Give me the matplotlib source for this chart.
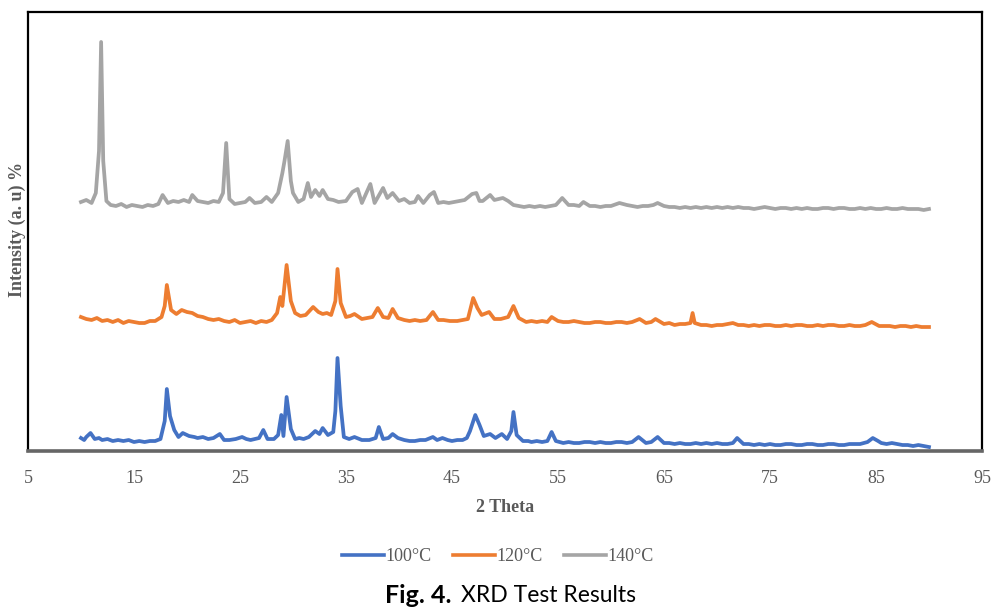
import matplotlib
matplotlib.use("Agg")
import matplotlib.pyplot as plt

# ---------------- data (2 Theta, intensity in a.u.) ----------------
two_theta_100 = [10.0, 10.3, 10.5, 10.9, 11.3, 11.7, 12.0, 12.5, 13.0, 13.5, 14.0, 14.5, 15.0, 15.5, 16.0, 16.5,
                 17.0, 17.5, 17.9, 18.1, 18.4, 18.8, 19.2, 19.6, 20.2, 20.7, 21.0, 21.5, 22.0, 22.5,
                 23.1, 23.5, 24.0, 24.6, 25.2, 25.6, 26.0, 26.4, 26.8, 27.2, 27.6, 28.2, 28.6, 28.9,
                 29.1, 29.4, 29.8, 30.2, 30.6, 31.0, 31.5, 32.1, 32.5, 32.8, 33.3, 33.8, 34.0, 34.2,
                 34.5, 34.8, 35.3, 35.8, 36.5, 37.2, 37.8, 38.1, 38.5, 39.0, 39.4, 39.9, 40.5, 41.0,
                 41.5, 42.0, 42.5, 43.2, 43.6, 44.1, 44.6, 45.0, 45.5, 46.0, 46.4, 46.7, 47.2, 47.6,
                 48.0, 48.6, 49.1, 49.7, 50.2, 50.6, 50.8, 51.1, 51.7, 52.2, 52.5, 53.0, 53.5, 54.0,
                 54.4, 54.8, 55.5, 56.0, 56.5, 57.0, 57.5, 58.0, 58.5, 59.0, 59.5, 60.0, 60.5, 61.0,
                 61.5, 62.0, 62.6, 63.3, 63.8, 64.4, 65.0, 65.5, 66.0, 66.5, 67.0, 67.5, 68.0, 68.5,
                 69.0, 69.5, 70.0, 70.5, 71.0, 71.5, 71.9, 72.5, 73.0, 73.5, 74.0, 74.5, 75.0, 75.5,
                 76.0, 76.5, 77.0, 77.5, 78.0, 78.5, 79.0, 79.5, 80.0, 80.5, 81.0, 81.5, 82.0, 82.5,
                 83.0, 83.5, 84.2, 84.7, 85.2, 85.5, 86.0, 86.5, 87.0, 87.5, 88.0, 88.5, 89.0, 89.5,
                 90.0]
intensity_100 = [13, 11, 14, 18, 12, 13, 11, 12, 10, 11, 10, 11, 9, 10, 9, 10,
                 10, 12, 30, 62, 35, 21, 14, 18, 15, 14, 13, 14, 12, 13,
                 17, 11, 11, 12, 14, 12, 11, 12, 13, 21, 12, 12, 16, 36,
                 15, 54, 22, 12, 13, 12, 14, 20, 17, 23, 16, 19, 40, 93,
                 45, 14, 12, 14, 11, 11, 13, 24, 12, 13, 17, 13, 11, 10,
                 10, 11, 11, 14, 11, 13, 11, 10, 11, 11, 13, 20, 36, 26,
                 15, 17, 13, 17, 12, 20, 39, 16, 10, 10, 9, 10, 9, 10,
                 19, 10, 8, 9, 8, 8, 9, 9, 8, 9, 8, 8, 9, 9,
                 8, 9, 14, 8, 9, 14, 8, 8, 7, 8, 7, 7, 8, 7,
                 8, 7, 8, 7, 7, 8, 13, 7, 7, 6, 7, 6, 7, 6,
                 6, 7, 7, 6, 6, 7, 7, 6, 6, 7, 7, 6, 6, 7,
                 7, 7, 9, 13, 10, 8, 7, 8, 7, 6, 6, 5, 6, 5,
                 4]

two_theta_120 = [10.0, 10.5, 11.0, 11.5, 12.0, 12.5, 13.0, 13.5, 14.0, 14.5, 15.0, 15.5, 16.0, 16.5,
                 17.0, 17.6, 17.9, 18.1, 18.5, 19.0, 19.5, 20.0, 20.5, 21.0, 21.5, 22.0, 22.5, 23.0,
                 23.5, 24.0, 24.5, 25.0, 25.5, 26.0, 26.5, 27.0, 27.5, 28.0, 28.5, 28.8, 29.0, 29.4,
                 29.8, 30.2, 30.7, 31.2, 31.9, 32.4, 32.8, 33.2, 33.6, 34.0, 34.2, 34.5, 35.0, 35.4,
                 35.8, 36.5, 37.0, 37.5, 38.0, 38.5, 39.0, 39.4, 39.9, 40.5, 41.0, 41.5, 42.0, 42.6,
                 43.2, 43.7, 44.2, 44.8, 45.5, 46.0, 46.5, 47.0, 47.4, 47.8, 48.5, 49.0, 49.6, 50.3,
                 50.8, 51.3, 52.0, 52.5, 53.0, 53.5, 54.0, 54.4, 55.0, 55.5, 56.0, 56.5, 57.0, 57.5,
                 58.0, 58.5, 59.0, 59.5, 60.0, 60.5, 61.0, 61.5, 62.0, 62.7, 63.3, 63.8, 64.2, 65.0,
                 65.5, 66.0, 66.5, 67.0, 67.5, 67.7, 67.9, 68.5, 69.0, 69.5, 70.0, 70.5, 71.0, 71.5,
                 72.0, 72.5, 73.0, 73.5, 74.0, 74.5, 75.0, 75.5, 76.0, 76.5, 77.0, 77.5, 78.0, 78.5,
                 79.0, 79.5, 80.0, 80.5, 81.0, 81.5, 82.0, 82.5, 83.0, 83.5, 84.0, 84.6, 85.3, 85.8,
                 86.3, 86.8, 87.3, 87.8, 88.3, 88.8, 89.3, 90.0]
intensity_120 = [134, 132, 131, 133, 130, 131, 129, 131, 128, 130, 129, 128, 128, 130,
                 130, 134, 145, 166, 141, 137, 141, 139, 138, 135, 134, 132, 131, 132,
                 130, 129, 131, 128, 129, 130, 128, 130, 129, 131, 138, 154, 145, 186,
                 150, 138, 135, 136, 144, 139, 137, 138, 136, 150, 182, 148, 134, 135,
                 137, 132, 133, 134, 143, 134, 133, 142, 133, 131, 130, 131, 130, 131,
                 139, 131, 131, 130, 130, 131, 132, 153, 143, 136, 139, 132, 132, 134,
                 145, 133, 129, 130, 129, 130, 129, 134, 130, 129, 129, 130, 129, 128,
                 128, 129, 129, 128, 128, 129, 129, 128, 129, 132, 128, 129, 132, 127,
                 128, 126, 127, 127, 128, 138, 128, 126, 126, 125, 126, 126, 127, 128,
                 126, 126, 125, 126, 125, 126, 126, 125, 125, 126, 125, 126, 126, 125,
                 125, 126, 125, 126, 126, 125, 125, 126, 125, 125, 126, 129, 125, 125,
                 125, 124, 125, 125, 124, 125, 124, 124]

two_theta_140 = [10.0, 10.5, 11.0, 11.4, 11.7, 11.9, 12.1, 12.4, 12.8, 13.3, 13.8, 14.3, 14.8, 15.3,
                 15.8, 16.3, 16.8, 17.3, 17.7, 18.2, 18.7, 19.2, 19.7, 20.2, 20.5, 21.0, 21.5, 22.0,
                 22.5, 23.0, 23.4, 23.7, 24.0, 24.5, 25.0, 25.5, 25.9, 26.4, 27.0, 27.5, 28.0, 28.6,
                 29.0, 29.2, 29.5, 29.8, 30.0, 30.5, 31.0, 31.4, 31.7, 32.1, 32.5, 32.8, 33.3, 33.8,
                 34.3, 35.0, 35.6, 36.1, 36.5, 37.3, 37.7, 38.5, 38.9, 39.4, 40.0, 40.5, 41.0, 41.5,
                 41.8, 42.3, 42.9, 43.3, 43.7, 44.2, 44.7, 45.2, 45.7, 46.2, 46.9, 47.3, 47.6, 47.9,
                 48.6, 49.0, 49.8, 50.3, 50.8, 51.3, 51.8, 52.3, 52.8, 53.3, 53.8, 54.3, 54.8, 55.4,
                 56.0, 56.5, 57.0, 57.4, 58.0, 58.5, 59.0, 59.5, 60.0, 60.8, 61.5, 62.0, 62.5, 63.0,
                 63.5, 64.0, 64.4, 65.0, 65.5, 66.0, 66.5, 67.0, 67.5, 68.0, 68.5, 69.0, 69.5, 70.0,
                 70.5, 71.0, 71.5, 72.0, 72.5, 73.0, 73.5, 74.0, 74.5, 75.0, 75.5, 76.0, 76.5, 77.0,
                 77.5, 78.0, 78.5, 79.0, 79.5, 80.0, 80.5, 81.0, 81.5, 82.0, 82.5, 83.0, 83.5, 84.0,
                 84.5, 85.0, 85.5, 86.0, 86.5, 87.0, 87.5, 88.0, 88.5, 89.0, 89.5, 90.0]
intensity_140 = [249, 251, 248, 258, 300, 409, 290, 250, 246, 245, 247, 244, 246, 245,
                 244, 246, 245, 247, 256, 248, 250, 249, 251, 249, 256, 250, 249, 248,
                 250, 249, 258, 308, 252, 247, 248, 249, 253, 248, 249, 254, 249, 258,
                 278, 290, 310, 270, 258, 249, 252, 268, 254, 261, 255, 261, 252, 251,
                 249, 250, 259, 262, 248, 267, 248, 263, 253, 258, 250, 252, 248, 249,
                 255, 248, 256, 259, 248, 249, 248, 249, 250, 251, 257, 258, 250, 250,
                 256, 251, 253, 250, 246, 245, 244, 245, 244, 245, 244, 245, 246, 253,
                 246, 246, 245, 249, 245, 245, 244, 245, 245, 248, 246, 245, 244, 245,
                 245, 246, 248, 245, 244, 244, 243, 244, 243, 244, 243, 244, 243, 244,
                 243, 244, 243, 244, 243, 243, 242, 243, 244, 243, 242, 243, 243, 242,
                 243, 242, 243, 242, 242, 243, 243, 242, 243, 243, 242, 242, 243, 242,
                 243, 242, 242, 243, 242, 242, 243, 242, 242, 242, 241, 242]

series_labels = ["100°C", "120°C", "140°C"]
series_colors = ["#4472C4", "#ED7D31", "#A5A5A5"]
x_ticks = [5, 15, 25, 35, 45, 55, 65, 75, 85, 95]

# ---------------- figure ----------------
fig = plt.figure(figsize=(9.92, 6.08), dpi=100)
ax = fig.add_axes([0.0282, 0.2582, 0.9617, 0.7221])

serif = "Liberation Serif"
txt_gray = "#595959"

for xs, ys, lab, col in zip([two_theta_100, two_theta_120, two_theta_140],
                            [intensity_100, intensity_120, intensity_140],
                            series_labels, series_colors):
    ax.plot(xs, ys, color=col, lw=2.7, label=lab, solid_joinstyle="round")

ax.set_xlim(5, 95)
ax.set_ylim(0, 439)
ax.set_xticks(x_ticks)
ax.set_xticklabels([str(t) for t in x_ticks], fontfamily=serif, fontsize=13, color=txt_gray)
ax.set_yticks([])
ax.tick_params(axis="x", length=0, pad=14)

for s in ["top", "right", "left"]:
    ax.spines[s].set_color("black")
    ax.spines[s].set_linewidth(1.6)
ax.spines["bottom"].set_color("#666666")
ax.spines["bottom"].set_linewidth(2.6)

ax.set_xlabel("2 Theta", fontfamily=serif, fontweight="bold", fontsize=13, color=txt_gray, labelpad=8)
fig.text(0.017, 0.622, "Intensity (a. u) %", rotation=90, ha="center", va="center",
         fontfamily=serif, fontweight="bold", fontsize=13, color=txt_gray)

leg = fig.legend(loc="center", bbox_to_anchor=(0.502, 0.084), ncol=3, frameon=False,
                 prop={"family": serif, "size": 13}, handlelength=2.3, handletextpad=0.1,
                 columnspacing=1.2)
for t in leg.get_texts():
    t.set_color(txt_gray)
for h in leg.get_lines():
    h.set_linewidth(2.6)

fig.text(0.4556, 0.021, "Fig. 4.", ha="right", va="center",
         fontfamily="Lato", fontweight="bold", fontsize=18, color="black")
fig.text(0.4647, 0.021, "XRD Test Results", ha="left", va="center",
         fontfamily="Lato", fontsize=16.5, color="black")

fig.savefig("out.png", dpi=100)
